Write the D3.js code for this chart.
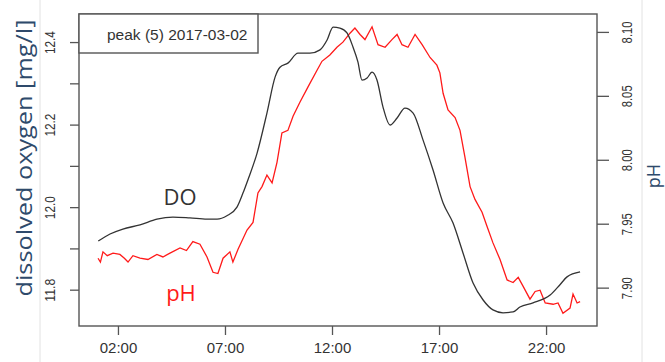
<!DOCTYPE html>
<html>
<head>
<meta charset="utf-8">
<script src="https://cdn.jsdelivr.net/npm/d3@7"></script>
<style>
body { margin: 0; background: #fff; }
</style>
</head>
<body>
<div id="container"></div>
<script>
var width = 665,
    height = 362;

// dissolved oxygen, hours of day / mg/l
var doHours = [1.08, 1.63, 2.23, 3.03, 3.82, 4.57, 5.36, 6.16, 6.63, 7.09, 7.56, 7.84, 8.07, 8.50, 8.96, 9.34,
    9.57, 9.94, 10.41, 10.97, 11.44, 11.77, 12.05, 12.37, 12.70, 12.98, 13.21, 13.40, 13.64, 13.87, 14.10,
    14.38, 14.71, 15.04, 15.41, 15.79, 16.25, 16.72, 17.19, 17.65, 18.12, 18.59, 19.06, 19.52, 19.99, 20.46,
    20.78, 21.39, 22.19, 22.65, 22.98, 23.59];
var doValues = [11.918, 11.935, 11.947, 11.957, 11.971, 11.976, 11.974, 11.971, 11.971, 11.979, 12.000, 12.034,
    12.066, 12.131, 12.228, 12.315, 12.339, 12.349, 12.373, 12.373, 12.381, 12.405, 12.436, 12.434, 12.422,
    12.388, 12.352, 12.308, 12.313, 12.327, 12.308, 12.243, 12.199, 12.216, 12.240, 12.228, 12.163, 12.090,
    12.010, 11.962, 11.889, 11.816, 11.775, 11.751, 11.744, 11.746, 11.758, 11.768, 11.787, 11.812, 11.831, 11.843];

// pH, hours of day / pH
var phHours = [1.07, 1.18, 1.30, 1.50, 1.77, 2.09, 2.30, 2.47, 2.70, 3.03, 3.40, 3.82, 4.10, 4.43, 4.90, 5.20,
    5.50, 5.83, 6.16, 6.44, 6.67, 6.91, 7.23, 7.37, 7.61, 8.03, 8.31, 8.54, 8.73, 8.96, 9.20, 9.43, 9.66, 9.94,
    10.18, 10.50, 10.88, 11.30, 11.53, 11.90, 12.23, 12.51, 12.84, 13.07, 13.31, 13.54, 13.87, 14.15, 14.48,
    14.80, 15.04, 15.27, 15.55, 15.88, 16.21, 16.58, 16.90, 17.04, 17.19, 17.42, 17.75, 17.98, 18.21, 18.45,
    18.68, 19.01, 19.24, 19.52, 19.85, 20.18, 20.46, 20.70, 20.93, 21.25, 21.49, 21.72, 21.96, 22.33, 22.56,
    22.79, 23.12, 23.26, 23.45, 23.59];
var phValues = [7.923, 7.920, 7.928, 7.925, 7.927, 7.926, 7.923, 7.920, 7.925, 7.923, 7.922, 7.926, 7.924,
    7.927, 7.931, 7.929, 7.936, 7.934, 7.924, 7.912, 7.911, 7.923, 7.928, 7.920, 7.930, 7.945, 7.951, 7.974,
    7.979, 7.988, 7.982, 7.998, 8.021, 8.023, 8.034, 8.045, 8.057, 8.070, 8.077, 8.082, 8.088, 8.092, 8.099,
    8.103, 8.098, 8.094, 8.104, 8.090, 8.088, 8.094, 8.098, 8.090, 8.088, 8.098, 8.090, 8.080, 8.074, 8.068,
    8.052, 8.039, 8.033, 8.023, 8.002, 7.979, 7.969, 7.959, 7.948, 7.935, 7.922, 7.906, 7.904, 7.908, 7.901,
    7.891, 7.897, 7.898, 7.888, 7.887, 7.888, 7.880, 7.884, 7.895, 7.888, 7.889];

var timeTicks = ["02:00", "07:00", "12:00", "17:00", "22:00"];
var doTicks = [11.8, 11.9, 12.0, 12.1, 12.2, 12.3, 12.4];
var doLabels = ["11.8", "12.0", "12.2", "12.4"];
var phTicks = ["7.90", "7.95", "8.00", "8.05", "8.10"];
var legendText = "peak (5) 2017-03-02";

var plot = {left: 79, right: 597, top: 14, bottom: 326};

var svg = d3.select("#container")
    .append("svg")
    .attr("width", width)
    .attr("height", height)
    .style("font-family", "Liberation Sans, Arial, sans-serif");

var x = d3.scaleLinear().domain([0.18, 24.38]).range([plot.left, plot.right]);
var yDO = d3.scaleLinear().domain([11.712, 12.468]).range([plot.bottom, plot.top]);
var yPH = d3.scaleLinear().domain([7.870, 8.114]).range([plot.bottom, plot.top]);

function hourOf(s) {
    return +s.slice(0, 2) + s.slice(3) / 60;
}

// faint slide guides
svg.selectAll("line.guide")
    .data([40, 642])
    .enter().append("line")
    .attr("class", "guide")
    .attr("x1", function (d) { return d; })
    .attr("x2", function (d) { return d; })
    .attr("y1", 0)
    .attr("y2", height)
    .attr("stroke", "#e2e2e2")
    .attr("stroke-width", 1);

// axes
var leftAxis = svg.append("g")
    .attr("transform", "translate(" + plot.left + ",0)")
    .call(d3.axisLeft(yDO).tickValues(doTicks).tickSize(9).tickFormat(function (d) {
        return doLabels.indexOf(d.toFixed(1)) >= 0 ? d.toFixed(1) : "";
    }));

var rightAxis = svg.append("g")
    .attr("transform", "translate(" + plot.right + ",0)")
    .call(d3.axisRight(yPH).tickValues(phTicks.map(Number)).tickSize(12).tickFormat(d3.format(".2f")));

var bottomAxis = svg.append("g")
    .attr("transform", "translate(0," + plot.bottom + ")")
    .call(d3.axisBottom(x).tickValues(timeTicks.map(hourOf)).tickSize(9).tickFormat(function (d, i) {
        return timeTicks[i];
    }));

[leftAxis, rightAxis, bottomAxis].forEach(function (g) {
    g.select(".domain").remove();
    g.selectAll(".tick line").attr("stroke", "#555").attr("stroke-width", 1.3);
    g.selectAll(".tick text").attr("fill", "#333");
});

leftAxis.selectAll(".tick text")
    .attr("x", 0).attr("dy", "0.36em")
    .attr("text-anchor", "middle")
    .attr("font-size", 14)
    .attr("textLength", 23)
    .attr("lengthAdjust", "spacingAndGlyphs")
    .attr("transform", "translate(-29,0) rotate(-90)");

rightAxis.selectAll(".tick text")
    .attr("x", 0).attr("dy", "0.36em")
    .attr("text-anchor", "middle")
    .attr("font-size", 14)
    .attr("textLength", 22)
    .attr("lengthAdjust", "spacingAndGlyphs")
    .attr("transform", "translate(30,0) rotate(-90)");

bottomAxis.selectAll(".tick text")
    .attr("y", 27).attr("dy", "0")
    .attr("font-size", 15);

// lines
var doLine = d3.line()
    .x(function (d) { return x(d.h); })
    .y(function (d) { return yDO(d.v); })
    .curve(d3.curveMonotoneX);

var phLine = d3.line()
    .x(function (d) { return x(d.h); })
    .y(function (d) { return yPH(d.v); });

var doData = doHours.map(function (h, i) { return {h: h, v: doValues[i]}; });
var phData = phHours.map(function (h, i) { return {h: h, v: phValues[i]}; });

svg.append("path")
    .datum(phData)
    .attr("d", phLine)
    .attr("fill", "none")
    .attr("stroke", "#ff1a1a")
    .attr("stroke-width", 1.3);

svg.append("path")
    .datum(doData)
    .attr("d", doLine)
    .attr("fill", "none")
    .attr("stroke", "#333")
    .attr("stroke-width", 1.3);

// frame and legend box
svg.append("rect")
    .attr("x", plot.left)
    .attr("y", plot.top)
    .attr("width", plot.right - plot.left)
    .attr("height", plot.bottom - plot.top)
    .attr("fill", "none")
    .attr("stroke", "#555")
    .attr("stroke-width", 1.4);

svg.append("rect")
    .attr("x", plot.left)
    .attr("y", plot.top)
    .attr("width", 179)
    .attr("height", 39)
    .attr("fill", "#fff")
    .attr("stroke", "#555")
    .attr("stroke-width", 1.4);

svg.append("text")
    .attr("x", 107)
    .attr("y", 40)
    .attr("font-size", 15.5)
    .attr("fill", "#333")
    .text(legendText);

// series labels
svg.append("text")
    .attr("x", 180)
    .attr("y", 205)
    .attr("text-anchor", "middle")
    .attr("font-family", "Open Sans, sans-serif")
    .attr("font-size", 22)
    .attr("fill", "#333")
    .text("DO");

svg.append("text")
    .attr("x", 181)
    .attr("y", 301)
    .attr("text-anchor", "middle")
    .attr("font-family", "Open Sans, sans-serif")
    .attr("font-size", 22)
    .attr("fill", "#ff1a1a")
    .text("pH");

// axis titles
svg.append("text")
    .attr("transform", "translate(32,158) rotate(-90)")
    .attr("text-anchor", "middle")
    .attr("font-family", "Open Sans, sans-serif")
    .attr("font-size", 22)
    .attr("textLength", 277)
    .attr("lengthAdjust", "spacingAndGlyphs")
    .attr("fill", "#2e4a6b")
    .text("dissolved oxygen [mg/l]");

svg.append("text")
    .attr("transform", "translate(660,176) rotate(-90)")
    .attr("text-anchor", "middle")
    .attr("font-family", "Open Sans, sans-serif")
    .attr("font-size", 18)
    .attr("fill", "#2e4a6b")
    .text("pH");
</script>
</body>
</html>
